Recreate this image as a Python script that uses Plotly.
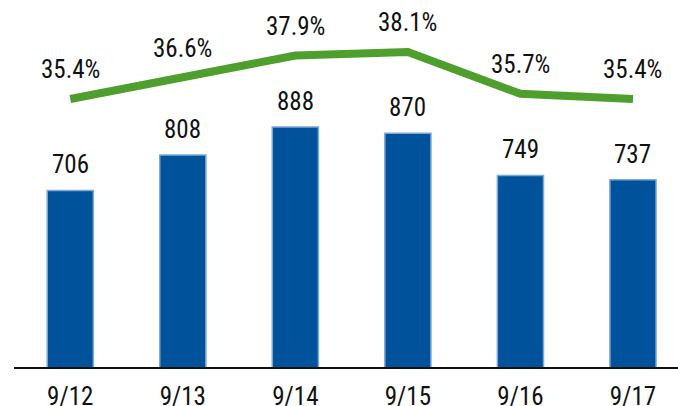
import plotly.graph_objects as go

FONT = "Liberation Sans Narrow, Roboto Condensed, Arial Narrow, Liberation Sans, Arial, sans-serif"
BAR_COLOR = "#00539A"
BAR_EDGE = "#7EA8D6"
LINE_COLOR = "#4F9F2E"

dates = ["9/12", "9/13", "9/14", "9/15", "9/16", "9/17"]
volumes = [706, 808, 888, 870, 749, 737]
rates = [35.4, 36.6, 37.9, 38.1, 35.7, 35.4]

fig = go.Figure()
fig.add_trace(go.Bar(
    x=dates, y=volumes, width=0.41,
    marker=dict(color=BAR_COLOR, line=dict(color=BAR_EDGE, width=1.5)),
    hoverinfo="skip",
))
fig.add_trace(go.Scatter(
    x=dates, y=rates, yaxis="y2", mode="lines",
    line=dict(color=LINE_COLOR, width=8),
    hoverinfo="skip",
))

for d, v in zip(dates, volumes):
    fig.add_annotation(x=d, y=v, text=str(v), showarrow=False, yanchor="bottom", yshift=9,
                       font=dict(family=FONT, size=25, color="#111111"))
for d, r in zip(dates, rates):
    fig.add_annotation(x=d, y=r, yref="y2", text=f"{r:.1f}%", showarrow=False, yanchor="bottom", yshift=13,
                       font=dict(family=FONT, size=25, color="#111111"))

fig.update_layout(
    width=678, height=406,
    margin=dict(l=14, r=0, t=0, b=39),
    paper_bgcolor="white", plot_bgcolor="white",
    showlegend=False,
    font=dict(family=FONT, size=25, color="#111111"),
    xaxis=dict(range=[-0.5, 5.4], showline=True, linecolor="#111111", linewidth=1.5,
               showgrid=False, zeroline=False, ticks="", ticklabelstandoff=6, layer="below traces",
               automargin=False, tickfont=dict(family=FONT, size=25, color="#111111")),
    yaxis=dict(range=[200, 1252], visible=False, showgrid=False, zeroline=False, automargin=False),
    yaxis2=dict(range=[20, 41.09], overlaying="y", visible=False, showgrid=False, zeroline=False,
                automargin=False),
)

fig.write_html("out.html", config={"displayModeBar": False},
               post_script="document.body.style.margin = '0';")
